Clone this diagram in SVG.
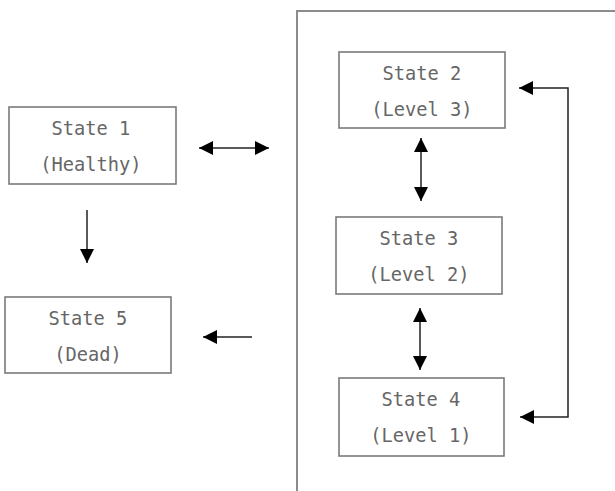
<svg xmlns="http://www.w3.org/2000/svg" width="615" height="491" viewBox="0 0 615 491">
<style>
.box{fill:#fff;stroke:#7a7a7a;stroke-width:1.6}
.cont{fill:none;stroke:#808080;stroke-width:1.8}
.t{font-family:"DejaVu Sans Mono","Liberation Mono",monospace;font-size:18.7px;fill:#666;text-anchor:middle}
.c{fill:none;stroke:#222;stroke-width:1.5}
</style>
<defs>
<marker id="ah" markerUnits="userSpaceOnUse" markerWidth="15" markerHeight="14" refX="14" refY="7" orient="auto-start-reverse" viewBox="0 0 15 14">
<path d="M0,0 L14,7 L0,14 z" fill="#000"/>
</marker>
</defs>
<rect width="615" height="491" fill="#fff"/>
<g id="container"><rect class="cont" x="297" y="11" width="340" height="500"/></g>
<g id="state1"><rect class="box" x="9" y="107" width="167" height="77"/><text class="t" x="91" y="135">State 1</text><text class="t" x="91" y="171">(Healthy)</text></g>
<g id="state5"><rect class="box" x="5" y="297" width="166" height="76"/><text class="t" x="88" y="325">State 5</text><text class="t" x="88" y="361">(Dead)</text></g>
<g id="state2"><rect class="box" x="339" y="52" width="166" height="76"/><text class="t" x="422" y="80">State 2</text><text class="t" x="422" y="116">(Level 3)</text></g>
<g id="state3"><rect class="box" x="336" y="217" width="166" height="77"/><text class="t" x="419" y="245">State 3</text><text class="t" x="419" y="281">(Level 2)</text></g>
<g id="state4"><rect class="box" x="339" y="378" width="165" height="78"/><text class="t" x="421" y="406">State 4</text><text class="t" x="421" y="442">(Level 1)</text></g>
<g id="connectors">
<line class="c" x1="199" y1="148" x2="269" y2="148" marker-start="url(#ah)" marker-end="url(#ah)"/>
<line class="c" x1="87" y1="210" x2="87" y2="263" marker-end="url(#ah)"/>
<line class="c" x1="252" y1="337" x2="203" y2="337" marker-end="url(#ah)"/>
<line class="c" x1="421" y1="138" x2="421" y2="201" marker-start="url(#ah)" marker-end="url(#ah)"/>
<line class="c" x1="420" y1="308" x2="420" y2="370" marker-start="url(#ah)" marker-end="url(#ah)"/>
<polyline class="c" points="519,88 568,88 568,417 520,417" marker-start="url(#ah)" marker-end="url(#ah)"/>
</g>
</svg>
